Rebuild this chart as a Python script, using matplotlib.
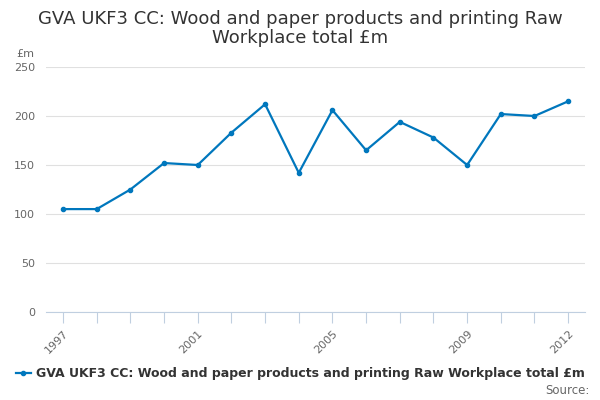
import numpy as np
import matplotlib.pyplot as plt

years = np.arange(1997, 2013)
values = [105, 105, 125, 152, 150, 183, 212, 142, 206, 165, 194, 178, 150, 202, 200, 215]
label_years = [1997, 2001, 2005, 2009, 2012]
yticks = [0, 50, 100, 150, 200, 250]

title = "GVA UKF3 CC: Wood and paper products and printing Raw\nWorkplace total £m"
series_name = "GVA UKF3 CC: Wood and paper products and printing Raw Workplace total £m"

fig = plt.figure(figsize=(6, 4), dpi=100)
ax = fig.add_axes([0.077, 0.22, 0.898, 0.6125])

ax.plot(years, values, color='#0077bd', linewidth=1.6, marker='o', markersize=3)

ax.set_xlim(1996.5, 2012.5)
ax.set_ylim(0, 250)
ax.set_yticks(yticks)
ax.yaxis.grid(True, color='#e0e0e0', linewidth=0.8)
ax.set_axisbelow(True)
ax.tick_params(axis='y', length=0, colors='#666666', labelsize=8, pad=8)

ax.set_xticks(years)
ax.set_xticklabels([str(y) if y in label_years else '' for y in years],
                   rotation=45, ha='right', rotation_mode='anchor')
ax.tick_params(axis='x', length=8, color='#c0cfe0', colors='#666666', labelsize=8, pad=4)
for lab in ax.get_xticklabels():
    lab.set_color('#666666')

for s in ['top', 'right', 'left']:
    ax.spines[s].set_visible(False)
ax.spines['bottom'].set_color('#c0cfe0')

ax.text(-0.055, 1.04, '£m', transform=ax.transAxes, fontsize=8, color='#666666', ha='left')

fig.text(0.5, 0.975, title, ha='center', va='top', fontsize=13, color='#333333',
         linespacing=1.1)

ax.plot([], [], color='#0077bd', linewidth=1.6, marker='o', markersize=3, label=series_name)
fig.legend(*ax.get_legend_handles_labels(), loc='center', bbox_to_anchor=(0.5, 0.065),
           frameon=False, prop={'size': 9, 'weight': 'bold'}, handlelength=1.2,
           handletextpad=0.4, labelcolor='#333333')
fig.text(0.982, 0.025, 'Source:', ha='right', va='center', fontsize=8.5, color='#666666')

fig.savefig('out.png', dpi=100)
